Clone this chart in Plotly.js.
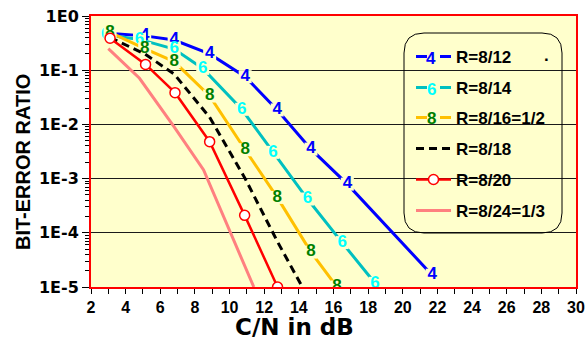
<!DOCTYPE html>
<html><head><meta charset="utf-8">
<script src="https://cdn.plot.ly/plotly-3.0.1.min.js"></script>
<style>html,body{margin:0;padding:0;background:#fff}#chart{width:587px;height:354px}</style>
</head><body><div id="chart"></div>
<script>
// ---- data ----
const seriesNames = ['R=8/12', 'R=8/14', 'R=8/16=1/2', 'R=8/18', 'R=8/20', 'R=8/24=1/3'];
const x12 = [3.0, 5.1, 6.8, 8.85, 10.9, 12.75, 14.7, 16.8, 21.7];
const y12 = [0.48, 0.43, 0.36, 0.2, 0.076, 0.0185, 0.0035, 0.00079, 0.0000165];
const x14 = [2.85, 4.8, 6.8, 8.45, 10.7, 12.5, 14.5, 16.5, 18.4];
const y14 = [0.45, 0.37, 0.245, 0.108, 0.019, 0.00305, 0.00042, 0.000066, 0.0000117];
const x16 = [3.1, 5.1, 6.8, 8.85, 10.9, 12.75, 14.7, 16.2];
const y16 = [0.5, 0.25, 0.144, 0.0334, 0.0034, 0.00045, 0.000044, 0.00001];
const x18 = [3.1, 5.1, 6.8, 8.85, 10.9, 12.75, 14.2];
const y18 = [0.4, 0.2, 0.085, 0.0135, 0.001, 0.00007, 0.00001];
const x20 = [3.1, 5.15, 6.85, 8.85, 10.87, 12.77];
const y20 = [0.39, 0.128, 0.0385, 0.0048, 0.00021, 0.00001];
const x24 = [3.0, 4.8, 6.8, 8.5, 11.4];
const y24 = [0.25, 0.071, 0.009, 0.00144, 0.00001];
const markerLabels = ['4', '6', '8'];
const xTickVals = [2, 4, 6, 8, 10, 12, 14, 16, 18, 20, 22, 24, 26, 28, 30];
const yTickVals = [1, 0.1, 0.01, 0.001, 0.0001, 0.00001];
const yTickText = ['1E0', '1E-1', '1E-2', '1E-3', '1E-4', '1E-5'];
const xTitle = 'C/N in dB';
const yTitle = 'BIT-ERROR RATIO';

// ---- layout helpers (pixel -> paper) ----
const W = 587, H = 354, L = 91, R = 11, T = 16, B = 67;
const PW = W - L - R, PH = H - T - B;
const px = v => (v - L) / PW;
const py = v => 1 - (v - T) / PH;
const BG = '#FFFFCC';
const AR = 'Liberation Sans, Arial, sans-serif';
const lineColors = ['#0000FF', '#00C0C0', '#FFC000'];
const labelColors = ['#0000FF', '#00FFFF', '#008000'];

const minorVals = [];
for (let d = -5; d < 0; d++) for (let k = 2; k <= 9; k++) minorVals.push(k * Math.pow(10, d));

function textTrace(x, y, name, i, leg) {
  return {
    type: 'scatter', mode: 'lines+markers+text', x: x, y: y, name: name,
    text: x.map(() => markerLabels[i]), textposition: 'middle center',
    textfont: {family: AR, size: 17, weight: 'bold', color: labelColors[i]},
    line: {color: lineColors[i], width: 3},
    marker: {symbol: 'square', size: 13, color: BG, line: {width: 0}},
    legend: leg, cliponaxis: true
  };
}

const traces = [
  textTrace(x12, y12, seriesNames[0], 0, 'legend'),
  textTrace(x14, y14, seriesNames[1], 1, 'legend2'),
  textTrace(x16, y16, seriesNames[2], 2, 'legend3'),
  {type: 'scatter', mode: 'lines', x: x18, y: y18, name: seriesNames[3],
   line: {color: '#000000', width: 3, dash: '8px,5px'}, legend: 'legend4'},
  {type: 'scatter', mode: 'lines+markers', x: x20, y: y20, name: seriesNames[4],
   line: {color: '#FF0000', width: 2.5},
   marker: {symbol: 'circle', size: 10, color: '#FFFFFF', line: {color: '#FF0000', width: 1.5}},
   legend: 'legend5'},
  {type: 'scatter', mode: 'lines', x: x24, y: y24, name: seriesNames[5],
   line: {color: '#FF8080', width: 3}, legend: 'legend6'}
];

const legRows = [57, 88, 118, 149, 180, 211];
const legFont = {family: AR, size: 17, weight: 'bold', color: '#000'};
function legCfg(row) {
  return {x: px(411), xref: 'paper', xanchor: 'left',
          y: py(row), yref: 'paper', yanchor: 'middle', itemwidth: 35,
          bgcolor: 'rgba(0,0,0,0)', borderwidth: 0, font: legFont,
          tracegroupgap: 0};
}

// rounded legend box
const bx0 = 404, bx1 = 562, by0 = 33, by1 = 233, rr = 20;
const path = [
  'M', px(bx0 + rr), py(by0),
  'L', px(bx1 - rr), py(by0),
  'Q', px(bx1), py(by0), px(bx1), py(by0 + rr),
  'L', px(bx1), py(by1 - rr),
  'Q', px(bx1), py(by1), px(bx1 - rr), py(by1),
  'L', px(bx0 + rr), py(by1),
  'Q', px(bx0), py(by1), px(bx0), py(by1 - rr),
  'L', px(bx0), py(by0 + rr),
  'Q', px(bx0), py(by0), px(bx0 + rr), py(by0), 'Z'
].join(' ');

const annotations = [
  {text: xTitle, xref: 'paper', yref: 'paper', x: px(294), y: py(327),
   xanchor: 'center', yanchor: 'middle', showarrow: false,
   font: {family: 'DejaVu Sans, sans-serif', size: 23, weight: 'bold', color: '#000'}},
  {text: yTitle, xref: 'paper', yref: 'paper', x: px(23), y: py(162),
   xanchor: 'center', yanchor: 'middle', showarrow: false, textangle: -90,
   font: {family: AR, size: 20, weight: 'bold', color: '#000'}},
  {text: '.', xref: 'paper', yref: 'paper', x: px(546), y: py(55),
   xanchor: 'center', yanchor: 'middle', showarrow: false,
   font: {family: AR, size: 17, weight: 'bold', color: '#000'}}
];
// marker labels inside the legend symbols
for (let i = 0; i < 3; i++) {
  annotations.push({text: markerLabels[i], xref: 'paper', yref: 'paper',
    x: px(431), y: py(legRows[i] + 1), xanchor: 'center', yanchor: 'middle', showarrow: false,
    font: {family: AR, size: 17, weight: 'bold', color: labelColors[i]}});
}

const layout = {
  width: W, height: H,
  margin: {l: L, r: R, t: T, b: B, pad: 0, autoexpand: false},
  paper_bgcolor: '#FFFFFF', plot_bgcolor: BG,
  showlegend: true,
  legend: legCfg(legRows[0]), legend2: legCfg(legRows[1]), legend3: legCfg(legRows[2]),
  legend4: legCfg(legRows[3]), legend5: legCfg(legRows[4]), legend6: legCfg(legRows[5]),
  xaxis: {
    type: 'linear', range: [2, 30], tickvals: xTickVals, ticks: 'outside', ticklen: 5,
    tickcolor: '#000', tickwidth: 1, showline: true, linecolor: '#FF0000', linewidth: 2,
    mirror: true, showgrid: false, zeroline: false,
    minor: {dtick: 1, tick0: 2, ticks: 'outside', ticklen: 5, tickcolor: '#000', tickwidth: 1, showgrid: false},
    tickfont: {family: AR, size: 16, weight: 'bold', color: '#000'}
  },
  yaxis: {
    type: 'log', range: [-5, 0], tickvals: yTickVals, ticktext: yTickText,
    ticks: 'outside', ticklen: 7, tickcolor: '#000', tickwidth: 1,
    showline: true, linecolor: '#FF0000', linewidth: 2, mirror: true,
    showgrid: true, gridcolor: '#1a1a1a', gridwidth: 1, zeroline: false,
    minor: {tickvals: minorVals, ticks: 'outside', ticklen: 4, tickcolor: '#000', tickwidth: 1, showgrid: false},
    tickfont: {family: 'DejaVu Sans, sans-serif', size: 16, weight: 'bold', color: '#000'}
  },
  shapes: [{type: 'path', xref: 'paper', yref: 'paper', path: path,
            line: {color: '#000', width: 1}, fillcolor: 'rgba(0,0,0,0)', layer: 'above'}],
  annotations: annotations
};

Plotly.newPlot('chart', traces, layout, {staticPlot: true, displayModeBar: false});
</script>
</body></html>
